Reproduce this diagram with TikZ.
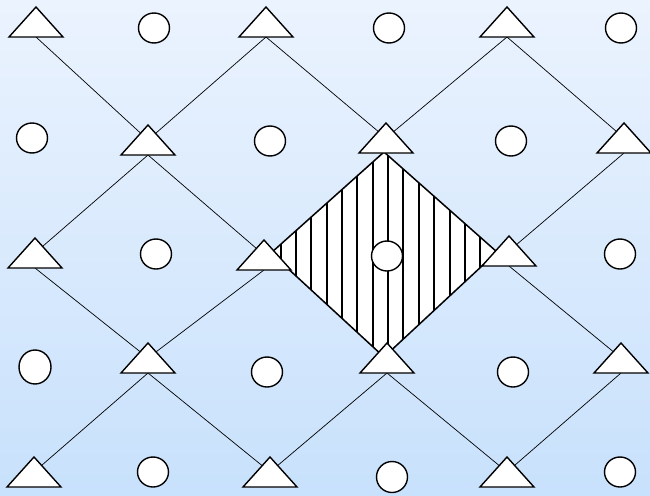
\documentclass[tikz,border=0pt]{standalone}
\usetikzlibrary{shapes.geometric}
\definecolor{bgtop}{RGB}{235,243,254}
\definecolor{bgbot}{RGB}{200,225,252}
\begin{document}
\begin{tikzpicture}[x=1pt,y=-1pt,
 tribox/.style={minimum width=54pt,minimum height=30pt,inner sep=0pt,outer sep=0pt},
 dot/.style={ellipse,draw,fill=white,line width=1.4pt,minimum width=31pt,minimum height=30pt,inner sep=0pt},
 link/.style={line width=0.7pt},
 triline/.style={draw,fill=white,line width=1.4pt,line join=miter},
 rim/.style={line width=1.5pt,line join=miter},
 hatch/.style={line width=1.6pt}]
\useasboundingbox (0,0) rectangle (650,495);
\shade[top color=bgtop,bottom color=bgbot] (0,0) rectangle (650,495);
% triangle positions
\node[tribox] (t00) at (36,22) {};
\node[tribox] (t01) at (266,22) {};
\node[tribox] (t02) at (507,22) {};
\node[tribox] (t10) at (148,140) {};
\node[tribox] (t11) at (386,138) {};
\node[tribox] (t12) at (624,138) {};
\node[tribox] (t20) at (35,253) {};
\node[tribox] (t21) at (264,255) {};
\node[tribox] (t22) at (509,251) {};
\node[tribox] (t30) at (148,358) {};
\node[tribox] (t31) at (387,358) {};
\node[tribox] (t32) at (621,358) {};
\node[tribox] (t40) at (34,472) {};
\node[tribox] (t41) at (270,472) {};
\node[tribox] (t42) at (507,472) {};
% connectors
\foreach \u/\l in {t00/t10,t01/t10,t01/t11,t02/t11,t02/t12,
                   t10/t20,t10/t21,t12/t22,
                   t20/t30,t21/t30,t22/t32,
                   t30/t40,t30/t41,t31/t41,t31/t42,t32/t42}
  \draw[link] (\u.south) -- (\l.center);
% hatched diamond (its edges join t11, t22, t31 and t21)
\coordinate (dt) at (384,152);
\coordinate (dr) at (497,252);
\coordinate (db) at (384,357);
\coordinate (dl) at (271,253);
\fill[white] (dt) -- (dr) -- (db) -- (dl) -- cycle;
\begin{scope}
  \clip (dt) -- (dr) -- (db) -- (dl) -- cycle;
  \foreach \hx in {281,296,311,327,342,357,373,388,403,419,434,450,465,480}
    \draw[hatch] (\hx,140) -- (\hx,370);
\end{scope}
\draw[rim] (dt) -- (dr) -- (db) -- (dl) -- cycle;
% triangles
\foreach \n in {t00,t01,t02,t10,t11,t12,t20,t21,t22,t30,t31,t32,t40,t41,t42}
  \draw[triline] (\n.south west) -- (\n.north) -- (\n.south east) -- cycle;
% circles
\node[dot] (c00) at (154,28) {};
\node[dot] (c01) at (389,28) {};
\node[dot] (c02) at (621,28) {};
\node[dot] (c10) at (32,138) {};
\node[dot] (c11) at (270,141) {};
\node[dot] (c12) at (511,141) {};
\node[dot] (c20) at (156,254) {};
\node[dot] (c21) at (387,256) {};
\node[dot] (c22) at (620,254) {};
\node[dot,minimum width=32pt,minimum height=34pt] (c30) at (35,367) {};
\node[dot] (c31) at (267,372) {};
\node[dot] (c32) at (513,372) {};
\node[dot] (c40) at (153,472) {};
\node[dot,minimum height=31pt] (c41) at (392,477) {};
\node[dot] (c42) at (620,472) {};
\end{tikzpicture}
\end{document}
